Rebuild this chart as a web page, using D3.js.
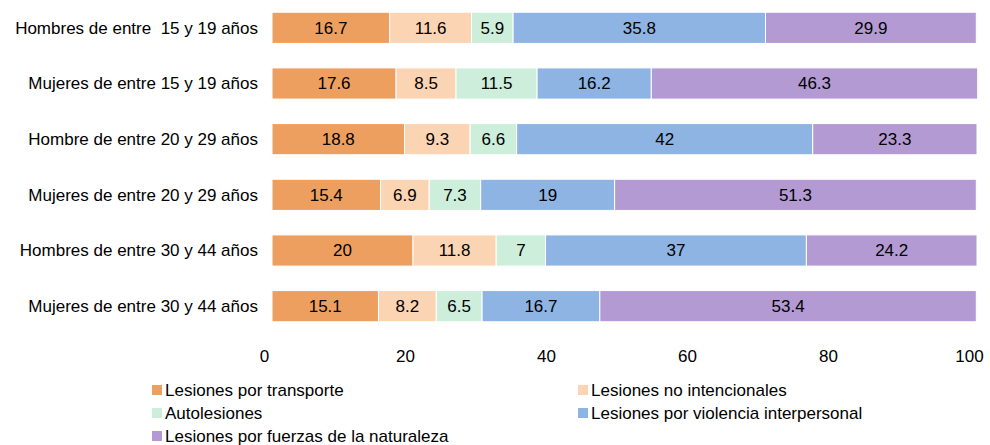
<!DOCTYPE html>
<html>
<head>
<meta charset="utf-8">
<script src="https://cdn.jsdelivr.net/npm/d3@7"></script>
<style>
  body { margin: 0; background: #fff; }
  text { font-family: "Liberation Sans", Arial, sans-serif; fill: #000; }
</style>
</head>
<body>
<svg width="990" height="445"></svg>
<script>
// categories and series
const groups = [
  "Hombres de entre  15 y 19 años",
  "Mujeres de entre 15 y 19 años",
  "Hombre de entre 20 y 29 años",
  "Mujeres de entre 20 y 29 años",
  "Hombres de entre 30 y 44 años",
  "Mujeres de entre 30 y 44 años"
];
const seriesNames = [
  "Lesiones por transporte",
  "Lesiones no intencionales",
  "Autolesiones",
  "Lesiones por violencia interpersonal",
  "Lesiones por fuerzas de la naturaleza"
];
const transporte = [16.7, 17.6, 18.8, 15.4, 20, 15.1];
const noIntencionales = [11.6, 8.5, 9.3, 6.9, 11.8, 8.2];
const autolesiones = [5.9, 11.5, 6.6, 7.3, 7, 6.5];
const violencia = [35.8, 16.2, 42, 19, 37, 16.7];
const naturaleza = [29.9, 46.3, 23.3, 51.3, 24.2, 53.4];
const tickValues = [0, 20, 40, 60, 80, 100];
const colors = ["#ED9F5F", "#FBD4B4", "#CCEEDB", "#8EB4E3", "#B39AD2"];

const svg = d3.select("svg");
const fs = "17px";

const x = d3.scaleLinear().domain([0, 100]).range([272, 977]);
const y = d3.scaleBand().domain(groups).range([0, 334]).paddingInner(0.44).paddingOuter(0.22);

const table = groups.map((g, i) => ({
  group: g,
  [seriesNames[0]]: transporte[i],
  [seriesNames[1]]: noIntencionales[i],
  [seriesNames[2]]: autolesiones[i],
  [seriesNames[3]]: violencia[i],
  [seriesNames[4]]: naturaleza[i]
}));
const stacked = d3.stack().keys(seriesNames)(table);

const layers = svg.append("g")
  .selectAll("g")
  .data(stacked)
  .join("g")
    .attr("fill", (d, i) => colors[i]);

layers.selectAll("rect")
  .data(d => d)
  .join("rect")
    .attr("x", d => x(d[0]))
    .attr("y", d => y(d.data.group))
    .attr("width", d => x(d[1]) - x(d[0]))
    .attr("height", y.bandwidth())
    .attr("stroke", "#fff")
    .attr("stroke-width", 1);

// value labels
layers.selectAll("text")
  .data(d => d.map(v => Object.assign(v, { key: d.key })))
  .join("text")
    .attr("x", d => (x(d[0]) + x(d[1])) / 2)
    .attr("y", d => y(d.data.group) + y.bandwidth() / 2)
    .attr("dy", "0.35em")
    .attr("text-anchor", "middle")
    .style("font-size", fs)
    .text(d => d.data[d.key]);

// category labels
svg.append("g")
  .selectAll("text")
  .data(groups)
  .join("text")
    .attr("x", 258)
    .attr("y", d => y(d) + y.bandwidth() / 2)
    .attr("dy", "0.35em")
    .attr("text-anchor", "end")
    .style("font-size", fs)
    .style("white-space", "pre")
    .attr("xml:space", "preserve")
    .text(d => d);

// x axis (labels only)
const axis = svg.append("g")
  .attr("transform", "translate(-8,362)")
  .call(d3.axisBottom(x).tickValues(tickValues).tickSize(0).tickPadding(0));
axis.select(".domain").remove();
axis.selectAll("text")
  .style("font-size", fs)
  .style("font-family", "Liberation Sans, Arial, sans-serif")
  .attr("fill", "#000")
  .attr("dy", "0");

// legend
const legendPos = [
  [152, 390], [578, 390],
  [152, 413], [578, 413],
  [152, 436]
];
const legend = svg.append("g")
  .selectAll("g")
  .data(seriesNames)
  .join("g")
    .attr("transform", (d, i) => `translate(${legendPos[i][0]},${legendPos[i][1]})`);
legend.append("rect")
  .attr("x", 0).attr("y", -5)
  .attr("width", 10).attr("height", 10)
  .attr("fill", (d, i) => colors[i]);
legend.append("text")
  .attr("x", 13)
  .attr("dy", "0.35em")
  .style("font-size", fs)
  .text(d => d);
</script>
</body>
</html>
